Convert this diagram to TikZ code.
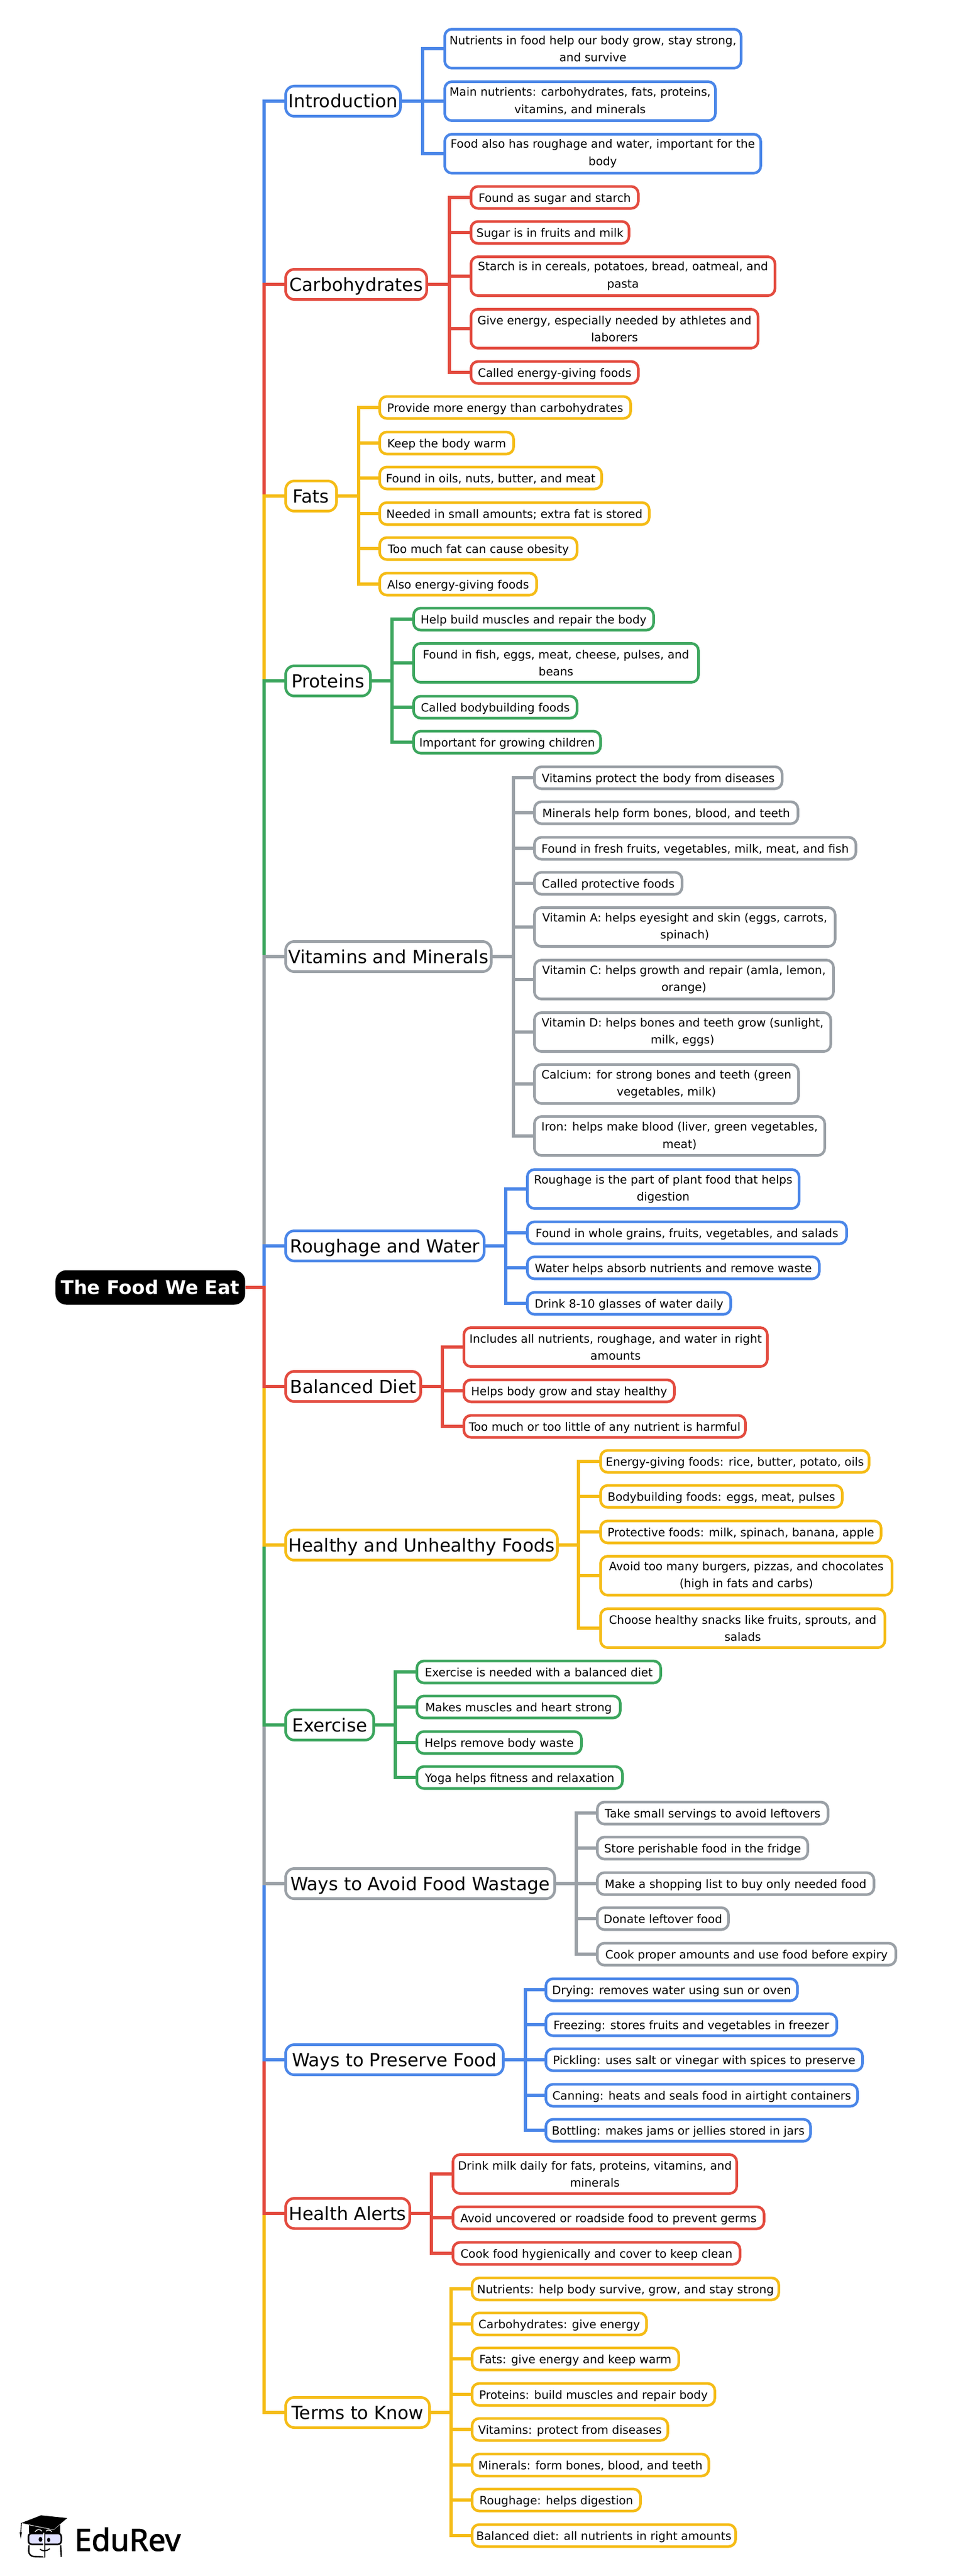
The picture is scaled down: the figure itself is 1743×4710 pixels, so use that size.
\documentclass[tikz,border=0pt]{standalone}
\usepackage{fontspec}
\setmainfont{DejaVu Sans}
\newfontfamily\logofont[FakeBold=2]{Noto Sans}
\definecolor{cblue}{HTML}{4A86E8}
\definecolor{cred}{HTML}{E34B3F}
\definecolor{cyellow}{HTML}{F5BC16}
\definecolor{cgreen}{HTML}{3CA65E}
\definecolor{cgrey}{HTML}{9AA0A6}
\tikzset{
  wd/.style={minimum width={(#1-5)*.5pt}},
  leafbox/.style={draw,fill=white,rounded corners=6.5pt,line width=2.4pt,anchor=west,align=center,
    inner xsep=1pt,inner ysep=0pt,minimum height=20.1pt,text=black,text height=9.5pt,text depth=1.5pt,
    font=\fontsize{10.5}{15.8}\selectfont},
  tall/.style={minimum height=35.6pt,text height=,text depth=},
  branchbox/.style={draw,fill=white,rounded corners=8pt,line width=2.4pt,anchor=west,
    inner xsep=1pt,inner ysep=0pt,minimum height=27.6pt,text=black,text height=13.4pt,text depth=1.4pt,
    font=\fontsize{16.5}{20}\selectfont},
  rootbox/.style={fill=black,rounded corners=10pt,anchor=west,inner xsep=1pt,inner ysep=0pt,
    minimum height=31.5pt,minimum width=173.5pt,text=white,text height=13pt,text depth=.5pt,
    font=\fontsize{17.3}{22}\selectfont\bfseries},
  elbow/.style={draw,line width=3pt,to path={-- (\tikztostart -| #1) |- (\tikztotarget)}}
}
\begin{document}
\begin{tikzpicture}[x=.5pt,y=-.5pt]
  \useasboundingbox (0,0) rectangle (1743,4710);

  \coordinate (trunk) at (483,0);
  \coordinate (j1) at (773,0);
  \coordinate (j2) at (822,0);
  \coordinate (j3) at (656,0);
  \coordinate (j4) at (717,0);
  \coordinate (j5) at (939,0);
  \coordinate (j6) at (925,0);
  \coordinate (j7) at (809,0);
  \coordinate (j8) at (1058,0);
  \coordinate (j9) at (723,0);
  \coordinate (j10) at (1054,0);
  \coordinate (j11) at (961,0);
  \coordinate (j12) at (789,0);
  \coordinate (j13) at (825,0);

  \node[rootbox] (root) at (101,2354) {The Food We Eat};

  \begin{scope}[every node/.style={branchbox}]
    \node[draw=cblue,wd=215] (intro) at (520,185) {Introduction};
    \node[draw=cred,wd=263] (carbs) at (520,520) {Carbohydrates};
    \node[draw=cyellow,wd=98] (fats) at (520,907) {Fats};
    \node[draw=cgreen,wd=160] (proteins) at (520,1245) {Proteins};
    \node[draw=cgrey,wd=381] (vitamins) at (520,1749) {Vitamins and Minerals};
    \node[draw=cblue,wd=368] (roughage) at (520,2278) {Roughage and Water};
    \node[draw=cred,wd=252] (balanced) at (520,2535) {Balanced Diet};
    \node[draw=cyellow,wd=502] (healthy) at (520,2825) {Healthy and Unhealthy Foods};
    \node[draw=cgreen,wd=166] (exercise) at (520,3154) {Exercise};
    \node[draw=cgrey,wd=497] (wastage) at (520,3444) {Ways to Avoid Food Wastage};
    \node[draw=cblue,wd=403] (preserve) at (520,3766) {Ways to Preserve Food};
    \node[draw=cred,wd=232] (alerts) at (520,4047) {Health Alerts};
    \node[draw=cyellow,wd=268] (terms) at (520,4411) {Terms to Know};
  \end{scope}

  \begin{scope}[every edge/.style={elbow=trunk}]
    \path (root.east) edge[cblue] (intro.west);
    \path (root.east) edge[cred] (carbs.west);
    \path (root.east) edge[cyellow] (fats.west);
    \path (root.east) edge[cgreen] (proteins.west);
    \path (root.east) edge[cgrey] (vitamins.west);
    \path (root.east) edge[cblue] (roughage.west);
    \path (root.east) edge[cyellow] (terms.west);
    \path (root.east) edge[cred] (alerts.west);
    \path (root.east) edge[cblue] (preserve.west);
    \path (root.east) edge[cgrey] (wastage.west);
    \path (root.east) edge[cgreen] (exercise.west);
    \path (root.east) edge[cyellow] (healthy.west);
    \path (root.east) edge[cred] (balanced.west);
  \end{scope}

  \begin{scope}[every node/.style={leafbox,draw=cblue}]
    \node[tall,wd=547] (i1) at (811,89) {Nutrients in food help our body grow, stay strong,\\and survive};
    \node[tall,wd=500] (i2) at (811,185) {Main nutrients: carbohydrates, fats, proteins,\\vitamins, and minerals};
    \node[tall,wd=583] (i3) at (811,281) {Food also has roughage and water, important for the\\body};
  \end{scope}
  \begin{scope}[every edge/.style={elbow=j1,cblue}]
    \path (intro.east) edge (i1.west);
    \path (intro.east) edge (i2.west);
    \path (intro.east) edge (i3.west);
  \end{scope}

  \begin{scope}[every node/.style={leafbox,draw=cred}]
    \node[wd=311] (c1) at (859,361) {Found as sugar and starch};
    \node[wd=294] (c2) at (859,425) {Sugar is in fruits and milk};
    \node[tall,wd=561] (c3) at (859,505) {Starch is in cereals, potatoes, bread, oatmeal, and\\pasta};
    \node[tall,wd=530] (c4) at (859,601) {Give energy, especially needed by athletes and\\laborers};
    \node[wd=311] (c5) at (859,681) {Called energy-giving foods};
  \end{scope}
  \begin{scope}[every edge/.style={elbow=j2,cred}]
    \path (carbs.east) edge (c1.west);
    \path (carbs.east) edge (c2.west);
    \path (carbs.east) edge (c3.west);
    \path (carbs.east) edge (c4.west);
    \path (carbs.east) edge (c5.west);
  \end{scope}

  \begin{scope}[every node/.style={leafbox,draw=cyellow}]
    \node[wd=464] (f1) at (692,745) {Provide more energy than carbohydrates};
    \node[wd=250] (f2) at (692,810) {Keep the body warm};
    \node[wd=411] (f3) at (692,874) {Found in oils, nuts, butter, and meat};
    \node[wd=498] (f4) at (692,939) {Needed in small amounts; extra fat is stored};
    \node[wd=366] (f5) at (692,1003) {Too much fat can cause obesity};
    \node[wd=292] (f6) at (692,1068) {Also energy-giving foods};
  \end{scope}
  \begin{scope}[every edge/.style={elbow=j3,cyellow}]
    \path (fats.east) edge (f1.west);
    \path (fats.east) edge (f2.west);
    \path (fats.east) edge (f3.west);
    \path (fats.east) edge (f4.west);
    \path (fats.east) edge (f5.west);
    \path (fats.east) edge (f6.west);
  \end{scope}

  \begin{scope}[every node/.style={leafbox,draw=cgreen}]
    \node[wd=444] (p1) at (754,1132) {Help build muscles and repair the body};
    \node[tall,wd=526] (p2) at (754,1212) {Found in fish, eggs, meat, cheese, pulses, and\\beans};
    \node[wd=304] (p3) at (754,1293) {Called bodybuilding foods};
    \node[wd=347] (p4) at (754,1357) {Important for growing children};
  \end{scope}
  \begin{scope}[every edge/.style={elbow=j4,cgreen}]
    \path (proteins.east) edge (p1.west);
    \path (proteins.east) edge (p2.west);
    \path (proteins.east) edge (p3.west);
    \path (proteins.east) edge (p4.west);
  \end{scope}

  \begin{scope}[every node/.style={leafbox,draw=cgrey}]
    \node[wd=458] (v1) at (975,1422) {Vitamins protect the body from diseases};
    \node[wd=487] (v2) at (975,1486) {Minerals help form bones, blood, and teeth};
    \node[wd=593] (v3) at (975,1551) {Found in fresh fruits, vegetables, milk, meat, and fish};
    \node[wd=275] (v4) at (975,1615) {Called protective foods};
    \node[tall,wd=555] (v5) at (975,1695) {Vitamin A: helps eyesight and skin (eggs, carrots,\\spinach)};
    \node[tall,wd=552] (v6) at (975,1791) {Vitamin C: helps growth and repair (amla, lemon,\\orange)};
    \node[tall,wd=547] (v7) at (975,1887) {Vitamin D: helps bones and teeth grow (sunlight,\\milk, eggs)};
    \node[tall,wd=488] (v8) at (975,1982) {Calcium: for strong bones and teeth (green\\vegetables, milk)};
    \node[tall,wd=536] (v9) at (975,2077) {Iron: helps make blood (liver, green vegetables,\\meat)};
  \end{scope}
  \begin{scope}[every edge/.style={elbow=j5,cgrey}]
    \path (vitamins.east) edge (v1.west);
    \path (vitamins.east) edge (v2.west);
    \path (vitamins.east) edge (v3.west);
    \path (vitamins.east) edge (v4.west);
    \path (vitamins.east) edge (v5.west);
    \path (vitamins.east) edge (v6.west);
    \path (vitamins.east) edge (v7.west);
    \path (vitamins.east) edge (v8.west);
    \path (vitamins.east) edge (v9.west);
  \end{scope}

  \begin{scope}[every node/.style={leafbox,draw=cblue}]
    \node[tall,wd=502] (r1) at (962,2174) {Roughage is the part of plant food that helps\\digestion};
    \node[wd=589] (r2) at (962,2254) {Found in whole grains, fruits, vegetables, and salads};
    \node[wd=539] (r3) at (962,2318) {Water helps absorb nutrients and remove waste};
    \node[wd=377] (r4) at (962,2383) {Drink 8-10 glasses of water daily};
  \end{scope}
  \begin{scope}[every edge/.style={elbow=j6,cblue}]
    \path (roughage.east) edge (r1.west);
    \path (roughage.east) edge (r2.west);
    \path (roughage.east) edge (r3.west);
    \path (roughage.east) edge (r4.west);
  \end{scope}

  \begin{scope}[every node/.style={leafbox,draw=cred}]
    \node[tall,wd=560] (b1) at (846,2463) {Includes all nutrients, roughage, and water in right\\amounts};
    \node[wd=390] (b2) at (846,2543) {Helps body grow and stay healthy};
    \node[wd=520] (b3) at (846,2608) {Too much or too little of any nutrient is harmful};
  \end{scope}
  \begin{scope}[every edge/.style={elbow=j7,cred}]
    \path (balanced.east) edge (b1.west);
    \path (balanced.east) edge (b2.west);
    \path (balanced.east) edge (b3.west);
  \end{scope}

  \begin{scope}[every node/.style={leafbox,draw=cyellow}]
    \node[wd=496] (h1) at (1096,2672) {Energy-giving foods: rice, butter, potato, oils};
    \node[wd=447] (h2) at (1096,2736) {Bodybuilding foods: eggs, meat, pulses};
    \node[wd=518] (h3) at (1096,2801) {Protective foods: milk, spinach, banana, apple};
    \node[tall,wd=538] (h4) at (1096,2881) {Avoid too many burgers, pizzas, and chocolates\\(high in fats and carbs)};
    \node[tall,wd=525] (h5) at (1096,2977) {Choose healthy snacks like fruits, sprouts, and\\salads};
  \end{scope}
  \begin{scope}[every edge/.style={elbow=j8,cyellow}]
    \path (healthy.east) edge (h1.west);
    \path (healthy.east) edge (h2.west);
    \path (healthy.east) edge (h3.west);
    \path (healthy.east) edge (h4.west);
    \path (healthy.east) edge (h5.west);
  \end{scope}

  \begin{scope}[every node/.style={leafbox,draw=cgreen}]
    \node[wd=451] (e1) at (760,3057) {Exercise is needed with a balanced diet};
    \node[wd=377] (e2) at (760,3121) {Makes muscles and heart strong};
    \node[wd=306] (e3) at (760,3186) {Helps remove body waste};
    \node[wd=381] (e4) at (760,3250) {Yoga helps fitness and relaxation};
  \end{scope}
  \begin{scope}[every edge/.style={elbow=j9,cgreen}]
    \path (exercise.east) edge (e1.west);
    \path (exercise.east) edge (e2.west);
    \path (exercise.east) edge (e3.west);
    \path (exercise.east) edge (e4.west);
  \end{scope}

  \begin{scope}[every node/.style={leafbox,draw=cgrey}]
    \node[wd=427] (w1) at (1090,3315) {Take small servings to avoid leftovers};
    \node[wd=390] (w2) at (1090,3379) {Store perishable food in the fridge};
    \node[wd=511] (w3) at (1090,3444) {Make a shopping list to buy only needed food};
    \node[wd=245] (w4) at (1090,3508) {Donate leftover food};
    \node[wd=551] (w5) at (1090,3573) {Cook proper amounts and use food before expiry};
  \end{scope}
  \begin{scope}[every edge/.style={elbow=j10,cgrey}]
    \path (wastage.east) edge (w1.west);
    \path (wastage.east) edge (w2.west);
    \path (wastage.east) edge (w3.west);
    \path (wastage.east) edge (w4.west);
    \path (wastage.east) edge (w5.west);
  \end{scope}

  \begin{scope}[every node/.style={leafbox,draw=cblue}]
    \node[wd=465] (s1) at (996,3638) {Drying: removes water using sun or oven};
    \node[wd=537] (s2) at (996,3702) {Freezing: stores fruits and vegetables in freezer};
    \node[wd=584] (s3) at (996,3766) {Pickling: uses salt or vinegar with spices to preserve};
    \node[wd=575] (s4) at (996,3831) {Canning: heats and seals food in airtight containers};
    \node[wd=489] (s5) at (996,3895) {Bottling: makes jams or jellies stored in jars};
  \end{scope}
  \begin{scope}[every edge/.style={elbow=j11,cblue}]
    \path (preserve.east) edge (s1.west);
    \path (preserve.east) edge (s2.west);
    \path (preserve.east) edge (s3.west);
    \path (preserve.east) edge (s4.west);
    \path (preserve.east) edge (s5.west);
  \end{scope}

  \begin{scope}[every node/.style={leafbox,draw=cred}]
    \node[tall,wd=524] (a1) at (826,3975) {Drink milk daily for fats, proteins, vitamins, and\\minerals};
    \node[wd=574] (a2) at (826,4055) {Avoid uncovered or roadside food to prevent germs};
    \node[wd=530] (a3) at (826,4120) {Cook food hygienically and cover to keep clean};
  \end{scope}
  \begin{scope}[every edge/.style={elbow=j12,cred}]
    \path (alerts.east) edge (a1.west);
    \path (alerts.east) edge (a2.west);
    \path (alerts.east) edge (a3.west);
  \end{scope}

  \begin{scope}[every node/.style={leafbox,draw=cyellow}]
    \node[wd=566] (t1) at (861,4185) {Nutrients: help body survive, grow, and stay strong};
    \node[wd=324] (t2) at (861,4249) {Carbohydrates: give energy};
    \node[wd=383] (t3) at (861,4313) {Fats: give energy and keep warm};
    \node[wd=449] (t4) at (861,4378) {Proteins: build muscles and repair body};
    \node[wd=363] (t5) at (861,4442) {Vitamins: protect from diseases};
    \node[wd=438] (t6) at (861,4507) {Minerals: form bones, blood, and teeth};
    \node[wd=313] (t7) at (861,4571) {Roughage: helps digestion};
    \node[wd=487] (t8) at (861,4636) {Balanced diet: all nutrients in right amounts};
  \end{scope}
  \begin{scope}[every edge/.style={elbow=j13,cyellow}]
    \path (terms.east) edge (t1.west);
    \path (terms.east) edge (t2.west);
    \path (terms.east) edge (t3.west);
    \path (terms.east) edge (t4.west);
    \path (terms.east) edge (t5.west);
    \path (terms.east) edge (t6.west);
    \path (terms.east) edge (t7.west);
    \path (terms.east) edge (t8.west);
  \end{scope}

  \node[anchor=west,inner sep=0pt,font=\logofont\fontsize{28}{30}\selectfont] (logo) at (136,4643) {EduRev};
  \fill (53,4617) -- (98,4626) -- (110,4616) -- (110,4631) -- (53,4631) -- cycle;
  \fill (39,4613) -- (75,4599) -- (123,4604) -- (98,4625) -- cycle;
  \draw[line width=.8pt] (39,4613) -- (38,4632);
  \fill (36,4630) -- (40,4630) -- (38,4642) -- cycle;
  \draw[white,line width=.7pt] (64,4629) .. controls (68,4624) and (73,4624) .. (77,4628);
  \draw[white,line width=.7pt] (84,4628) .. controls (87,4625) and (91,4625) .. (95,4629);
  \draw[line width=1.5pt,fill=blue!12,rounded corners=3pt] (52,4632) rectangle (112,4652);
  \draw[line width=1.3pt,rounded corners=5pt] (53,4654) -- (52,4674) -- (82,4675);
  \draw[line width=1.3pt,rounded corners=5pt] (111,4654) -- (112,4675);
  \draw[white,line width=1pt] (80,4631) -- (80,4676);
  \draw[line width=.9pt] (82,4631) -- (82,4676);
  \fill (74,4643) ellipse [x radius=3.5,y radius=4.5];
  \fill (89,4644) ellipse [x radius=3,y radius=4];
  \draw[line width=1pt] (73,4661) .. controls (78,4665) and (85,4665) .. (91,4660);
\end{tikzpicture}
\end{document}
